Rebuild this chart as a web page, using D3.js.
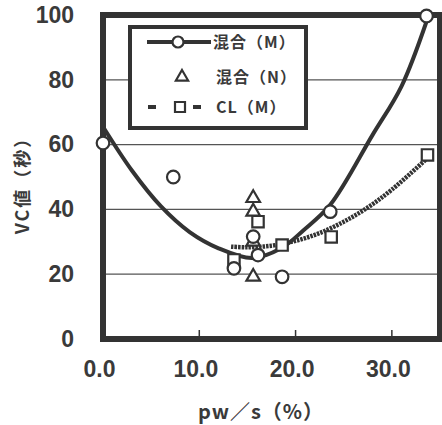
<!DOCTYPE html>
<meta charset="utf-8">
<style>
body { margin: 0; background: #fff; }
text { fill: #3a3a3a; font-weight: bold; }
</style>
<body>
<script src="https://d3js.org/d3.v7.min.js"></script>
<script>

const width = 442
const height = 425

// 混合(M) : measured points
const mixMX = [0.0, 7.3, 13.6, 15.6, 16.1, 18.6, 23.6, 33.6]
const mixMY = [60.5, 50.0, 21.8, 31.6, 25.9, 19.2, 39.3, 99.7]

// 混合(N) : measured points
const mixNX = [15.6, 15.6, 15.6, 15.6]
const mixNY = [43.5, 39.3, 30.0, 19.2]

// CL(M) : measured points
const clX = [13.6, 16.1, 18.6, 23.7, 33.7]
const clY = [24.4, 36.2, 29.0, 31.5, 56.8]

// trend curves
const fitMX = [0.0, 3.0, 6.0, 9.0, 12.0, 15.5, 18.5, 20.8, 23.6, 28.0, 31.0, 33.6]
const fitMY = [65.5, 52.0, 41.0, 33.0, 28.0, 25.0, 28.0, 33.5, 41.4, 63.0, 78.0, 98.0]
const fitCLX = [13.3, 15.0, 17.5, 20.0, 22.5, 25.0, 27.5, 30.0, 33.5]
const fitCLY = [28.5, 28.3, 28.8, 30.3, 32.7, 36.2, 40.6, 46.1, 55.3]

// axes
const xTicks = [0, 10, 20, 30]
const xLabels = ['0.0', '10.0', '20.0', '30.0']
const yTicks = [0, 20, 40, 60, 80, 100]

const ink = '#333'

const x = d3.scaleLinear().domain([0, 35]).range([103, 440])
const y = d3.scaleLinear().domain([0, 100]).range([339, 15])

const svg = d3.select('body').append('svg')
	.attr('width', width)
	.attr('height', height)

// grid lines
svg.append('g')
	.selectAll('line')
	.data(yTicks.slice(1, -1))
	.join('line')
	.attr('x1', x(0)).attr('x2', x(35))
	.attr('y1', d => y(d)).attr('y2', d => y(d))
	.attr('stroke', '#555')
	.attr('stroke-width', 1.2)

// bottom tick marks
svg.append('g')
	.selectAll('line')
	.data(xTicks.slice(1))
	.join('line')
	.attr('x1', d => x(d)).attr('x2', d => x(d))
	.attr('y1', y(0)).attr('y2', y(0) - 9)
	.attr('stroke', ink)
	.attr('stroke-width', 1.5)

// axis labels through d3 axes
const yAxis = svg.append('g')
	.attr('transform', `translate(${x(0) - 29},0)`)
	.call(d3.axisLeft(y).tickValues(yTicks).tickSize(0).tickPadding(0))
yAxis.select('.domain').remove()
yAxis.selectAll('text')
	.attr('font-family', '"Liberation Sans Narrow", "Liberation Sans", sans-serif')
	.attr('font-size', 23)
	.attr('fill', ink)

const xAxis = svg.append('g')
	.attr('transform', `translate(-4,${y(0) + 22})`)
	.call(d3.axisBottom(x).tickValues(xTicks).tickFormat((d, i) => xLabels[i]).tickSize(0).tickPadding(0))
xAxis.select('.domain').remove()
xAxis.selectAll('text')
	.attr('font-family', '"Liberation Sans Narrow", "Liberation Sans", sans-serif')
	.attr('font-size', 23)
	.attr('fill', ink)

// axis titles
svg.append('text')
	.attr('x', 261).attr('y', 419)
	.attr('text-anchor', 'middle')
	.attr('font-family', '"Noto Sans CJK JP", sans-serif')
	.attr('font-size', 20)
	.attr('letter-spacing', 1)
	.text('pw／s（%）')

svg.append('text')
	.attr('transform', 'translate(29,181) rotate(-90)')
	.attr('text-anchor', 'middle')
	.attr('font-family', '"Noto Sans CJK JP", sans-serif')
	.attr('font-size', 18)
	.attr('letter-spacing', 2)
	.text('VC値（秒）')

// curves
const line = d3.line()
	.x(d => x(d[0]))
	.y(d => y(d[1]))
	.curve(d3.curveCatmullRom.alpha(0.5))

svg.append('path')
	.datum(fitCLX.map((v, i) => [v, fitCLY[i]]))
	.attr('d', line)
	.attr('fill', 'none')
	.attr('stroke', ink)
	.attr('stroke-width', 4.5)
	.attr('stroke-dasharray', '2.5,1')

svg.append('path')
	.datum(fitMX.map((v, i) => [v, fitMY[i]]))
	.attr('d', line)
	.attr('fill', 'none')
	.attr('stroke', ink)
	.attr('stroke-width', 4)

// plot frame
svg.append('rect')
	.attr('x', x(0)).attr('y', y(100))
	.attr('width', x(35) - x(0)).attr('height', y(0) - y(100))
	.attr('fill', 'none')
	.attr('stroke', ink)
	.attr('stroke-width', 6)

// markers
const tri = d3.symbol().type(d3.symbolTriangle)
const sq = d3.symbol().type(d3.symbolSquare)

svg.append('g')
	.selectAll('path')
	.data(clX.map((v, i) => [v, clY[i]]))
	.join('path')
	.attr('d', sq.size(130))
	.attr('transform', d => `translate(${x(d[0])},${y(d[1])})`)
	.attr('fill', 'white')
	.attr('stroke', ink)
	.attr('stroke-width', 2.2)

svg.append('g')
	.selectAll('path')
	.data(mixNX.map((v, i) => [v, mixNY[i]]))
	.join('path')
	.attr('d', tri.size(80))
	.attr('transform', d => `translate(${x(d[0])},${y(d[1])})`)
	.attr('fill', 'white')
	.attr('stroke', ink)
	.attr('stroke-width', 2.2)

svg.append('g')
	.selectAll('circle')
	.data(mixMX.map((v, i) => [v, mixMY[i]]))
	.join('circle')
	.attr('cx', d => x(d[0]))
	.attr('cy', d => y(d[1]))
	.attr('r', 6.3)
	.attr('fill', 'white')
	.attr('stroke', ink)
	.attr('stroke-width', 2.2)

// legend
const legend = svg.append('g')
legend.append('rect')
	.attr('x', 130).attr('y', 27)
	.attr('width', 176).attr('height', 101)
	.attr('fill', 'white')
	.attr('stroke', ink)
	.attr('stroke-width', 4)

legend.append('line')
	.attr('x1', 147).attr('x2', 211).attr('y1', 42).attr('y2', 42)
	.attr('stroke', ink).attr('stroke-width', 4)
legend.append('circle')
	.attr('cx', 178).attr('cy', 42).attr('r', 5.5)
	.attr('fill', 'white').attr('stroke', ink).attr('stroke-width', 2.2)

legend.append('path')
	.attr('d', tri.size(65))
	.attr('transform', 'translate(182,77)')
	.attr('fill', 'white').attr('stroke', ink).attr('stroke-width', 2.2)

legend.append('line')
	.attr('x1', 148).attr('x2', 201).attr('y1', 107).attr('y2', 107)
	.attr('stroke', ink).attr('stroke-width', 4)
	.attr('stroke-dasharray', '8,37')
legend.append('path')
	.attr('d', sq.size(100))
	.attr('transform', 'translate(180,107)')
	.attr('fill', 'white').attr('stroke', ink).attr('stroke-width', 2.2)

const legendNames = ['混合（M）', '混合（N）', 'CL（M）']
const legendRows = [42, 77, 107]
legend.selectAll('text.name')
	.data(legendNames)
	.join('text')
	.attr('class', 'name')
	.attr('x', (d, i) => i === 0 ? 213 : 216)
	.attr('y', (d, i) => legendRows[i] + 6)
	.attr('font-family', '"Noto Sans CJK JP", sans-serif')
	.attr('font-size', 16)
	.attr('letter-spacing', 1)
	.text(d => d)

</script>
</body>
</html>
